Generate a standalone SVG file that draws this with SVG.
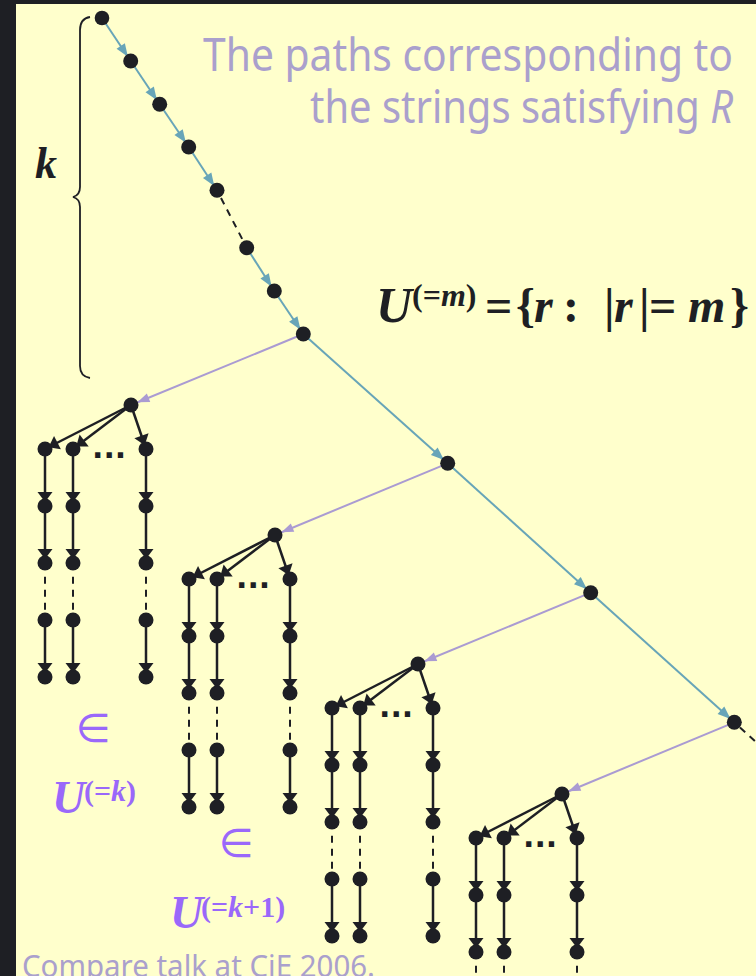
<svg xmlns="http://www.w3.org/2000/svg" width="756" height="976" viewBox="0 0 756 976">
<style>
.nd{fill:#1e1f24}
.e{stroke:#1e1f24;stroke-width:2.5;fill:none;marker-end:url(#aB)}
.d{stroke:#1e1f24;stroke-width:2;fill:none;stroke-dasharray:7 6}
.t{stroke:#68a5b8;stroke-width:2;fill:none;marker-end:url(#aT)}
.p{stroke:#aa9bd2;stroke-width:2;fill:none;marker-end:url(#aP)}
.ttl{font-family:"Noto Sans","Liberation Sans",sans-serif;fill:#aaa0cc}
.mth{font-family:"Liberation Serif",serif;font-weight:bold;font-style:italic}
.up{font-style:normal}
.pur{fill:#9a68fa}
.dots{font-family:"DejaVu Sans",sans-serif;font-weight:bold;font-size:30px;fill:#1e1f24}
</style>
<defs>
<marker id="aT" markerUnits="userSpaceOnUse" markerWidth="13" markerHeight="10" refX="18" refY="5" orient="auto" overflow="visible"><path d="M0,0 L13,5 L0,10 z" fill="#68a5b8"/></marker>
<marker id="aB" markerUnits="userSpaceOnUse" markerWidth="10" markerHeight="15" refX="14" refY="7.5" orient="auto" overflow="visible"><path d="M0,0 L10,7.5 L0,15 z" fill="#1e1f24"/></marker>
<marker id="aP" markerUnits="userSpaceOnUse" markerWidth="12" markerHeight="9" refX="19" refY="4.5" orient="auto" overflow="visible"><path d="M0,0 L12,4.5 L0,9 z" fill="#aa9bd2"/></marker>
</defs>
<rect x="0" y="0" width="756" height="976" fill="#1e1f24"/>
<rect x="16" y="4" width="740" height="972" fill="#ffffcc"/>

<g id="title">
<text class="ttl" x="203" y="71" font-size="45" textLength="530" lengthAdjust="spacingAndGlyphs">The paths corresponding to</text>
<text class="ttl" x="310" y="123" font-size="45" textLength="423" lengthAdjust="spacingAndGlyphs">the strings satisfying <tspan font-style="italic">R</tspan></text>
</g>
<g id="brace">
<path d="M90,17 C84,18 80,22 80,30 L80,187 C80,193 77,196 73,197 C77,198 80,201 80,207 L80,366 C80,373 84,377 90,378" fill="none" stroke="#1e1f24" stroke-width="1.8"/>
<text class="mth" x="35" y="178" font-size="44" fill="#1e1f24">k</text>
</g>
<g id="formula" class="mth" fill="#1e1f24">
<text x="376" y="322" font-size="50">U</text>
<text x="412" y="306" font-size="32"><tspan class="up">(=</tspan>m<tspan class="up">)</tspan></text>
<text y="322" font-size="48"><tspan class="up" x="485">=</tspan><tspan class="up" x="516">{</tspan><tspan x="534">r</tspan><tspan class="up" x="563">:</tspan><tspan class="up" x="604">|</tspan><tspan x="614">r</tspan><tspan class="up" x="639">|</tspan><tspan class="up" x="649">=</tspan><tspan x="688">m</tspan><tspan class="up" x="730">}</tspan></text>
</g>
<g id="label-k" class="mth pur">
<text class="up" x="93.5" y="742" font-family="DejaVu Sans, sans-serif" font-weight="normal" font-size="40" text-anchor="middle">∈</text>
<text x="52" y="813" font-size="46">U</text>
<text x="84" y="801" font-size="30"><tspan class="up">(=</tspan>k<tspan class="up">)</tspan></text>
</g>
<g id="label-k1" class="mth pur">
<text class="up" x="236.5" y="857" font-family="DejaVu Sans, sans-serif" font-weight="normal" font-size="40" text-anchor="middle">∈</text>
<text x="170" y="928" font-size="46">U</text>
<text x="201" y="917" font-size="30"><tspan class="up">(=</tspan>k<tspan class="up">+1)</tspan></text>
</g>
<g id="footer">
<text class="ttl" x="22" y="977" font-size="30" textLength="353" lengthAdjust="spacingAndGlyphs">Compare talk at CiE 2006.</text>
</g>

<g id="connectors">
<line class="t" x1="102" y1="18" x2="130.7" y2="61"/>
<line class="t" x1="130.7" y1="61" x2="159.7" y2="104.3"/>
<line class="t" x1="159.7" y1="104.3" x2="188.7" y2="147"/>
<line class="t" x1="188.7" y1="147" x2="217" y2="190.3"/>
<line class="d" x1="221" y1="198" x2="246.7" y2="247.7" stroke-dasharray="7 5"/>
<line class="t" x1="246.7" y1="247.7" x2="274.3" y2="291"/>
<line class="t" x1="274.3" y1="291" x2="303.3" y2="334"/>
<line class="t" x1="303.3" y1="334" x2="447.7" y2="463.3"/>
<line class="t" x1="447.7" y1="463.3" x2="590.7" y2="592.7"/>
<line class="t" x1="590.7" y1="592.7" x2="734.3" y2="722.3"/>
<line class="d" x1="740" y1="727.5" x2="776" y2="760" stroke-dasharray="6 5"/>
<line class="p" x1="303.3" y1="334" x2="131" y2="405"/>
<line class="p" x1="447.7" y1="463.3" x2="275" y2="535"/>
<line class="p" x1="590.7" y1="592.7" x2="418" y2="664"/>
<line class="p" x1="734.3" y1="722.3" x2="562" y2="794"/>

<line class="e" x1="131" y1="405" x2="45" y2="449"/>
<line class="e" x1="131" y1="405" x2="73" y2="449"/>
<line class="e" x1="131" y1="405" x2="146" y2="449"/>
<line class="e" x1="45" y1="449" x2="45" y2="506"/>
<line class="e" x1="45" y1="506" x2="45" y2="563"/>
<line class="d" x1="45" y1="576.7" x2="45" y2="612.5"/>
<line class="e" x1="45" y1="620" x2="45" y2="677"/>
<line class="e" x1="73" y1="449" x2="73" y2="506"/>
<line class="e" x1="73" y1="506" x2="73" y2="563"/>
<line class="d" x1="73" y1="576.7" x2="73" y2="612.5"/>
<line class="e" x1="73" y1="620" x2="73" y2="677"/>
<line class="e" x1="146" y1="449" x2="146" y2="506"/>
<line class="e" x1="146" y1="506" x2="146" y2="563"/>
<line class="d" x1="146" y1="576.7" x2="146" y2="612.5"/>
<line class="e" x1="146" y1="620" x2="146" y2="677"/>

<line class="e" x1="275" y1="535" x2="189" y2="579"/>
<line class="e" x1="275" y1="535" x2="217" y2="579"/>
<line class="e" x1="275" y1="535" x2="290" y2="579"/>
<line class="e" x1="189" y1="579" x2="189" y2="636"/>
<line class="e" x1="189" y1="636" x2="189" y2="693"/>
<line class="d" x1="189" y1="706.7" x2="189" y2="742.5"/>
<line class="e" x1="189" y1="750" x2="189" y2="807"/>
<line class="e" x1="217" y1="579" x2="217" y2="636"/>
<line class="e" x1="217" y1="636" x2="217" y2="693"/>
<line class="d" x1="217" y1="706.7" x2="217" y2="742.5"/>
<line class="e" x1="217" y1="750" x2="217" y2="807"/>
<line class="e" x1="290" y1="579" x2="290" y2="636"/>
<line class="e" x1="290" y1="636" x2="290" y2="693"/>
<line class="d" x1="290" y1="706.7" x2="290" y2="742.5"/>
<line class="e" x1="290" y1="750" x2="290" y2="807"/>

<line class="e" x1="418" y1="664" x2="332" y2="708"/>
<line class="e" x1="418" y1="664" x2="360" y2="708"/>
<line class="e" x1="418" y1="664" x2="433" y2="708"/>
<line class="e" x1="332" y1="708" x2="332" y2="765"/>
<line class="e" x1="332" y1="765" x2="332" y2="822"/>
<line class="d" x1="332" y1="835.7" x2="332" y2="871.5"/>
<line class="e" x1="332" y1="879" x2="332" y2="936"/>
<line class="e" x1="360" y1="708" x2="360" y2="765"/>
<line class="e" x1="360" y1="765" x2="360" y2="822"/>
<line class="d" x1="360" y1="835.7" x2="360" y2="871.5"/>
<line class="e" x1="360" y1="879" x2="360" y2="936"/>
<line class="e" x1="433" y1="708" x2="433" y2="765"/>
<line class="e" x1="433" y1="765" x2="433" y2="822"/>
<line class="d" x1="433" y1="835.7" x2="433" y2="871.5"/>
<line class="e" x1="433" y1="879" x2="433" y2="936"/>

<line class="e" x1="562" y1="794" x2="476" y2="838"/>
<line class="e" x1="562" y1="794" x2="504" y2="838"/>
<line class="e" x1="562" y1="794" x2="577" y2="838"/>
<line class="e" x1="476" y1="838" x2="476" y2="895"/>
<line class="e" x1="476" y1="895" x2="476" y2="952"/>
<line class="d" x1="476" y1="965.7" x2="476" y2="1001.5"/>
<line class="e" x1="504" y1="838" x2="504" y2="895"/>
<line class="e" x1="504" y1="895" x2="504" y2="952"/>
<line class="d" x1="504" y1="965.7" x2="504" y2="1001.5"/>
<line class="e" x1="577" y1="838" x2="577" y2="895"/>
<line class="e" x1="577" y1="895" x2="577" y2="952"/>
<line class="d" x1="577" y1="965.7" x2="577" y2="1001.5"/>
</g>

<g id="chain">
<g id="c0"><circle class="nd" cx="102" cy="18" r="7.3"/></g>
<g id="c1"><circle class="nd" cx="130.7" cy="61" r="7.5"/></g>
<g id="c2"><circle class="nd" cx="159.7" cy="104.3" r="7.5"/></g>
<g id="c3"><circle class="nd" cx="188.7" cy="147" r="7.5"/></g>
<g id="c4"><circle class="nd" cx="217" cy="190.3" r="7.5"/></g>
<g id="c5"><circle class="nd" cx="246.7" cy="247.7" r="7.5"/></g>
<g id="c6"><circle class="nd" cx="274.3" cy="291" r="7.5"/></g>
<g id="c7"><circle class="nd" cx="303.3" cy="334" r="7.5"/></g>
<g id="c8"><circle class="nd" cx="447.7" cy="463.3" r="7.5"/></g>
<g id="c9"><circle class="nd" cx="590.7" cy="592.7" r="7.5"/></g>
<g id="c10"><circle class="nd" cx="734.3" cy="722.3" r="7.5"/></g>
</g>

<g id="tree1">
<g id="t1-root"><circle class="nd" cx="131" cy="405" r="7.5"/></g>
<g id="t1-a1"><circle class="nd" cx="45" cy="449" r="7.5"/></g>
<g id="t1-a2"><circle class="nd" cx="45" cy="506" r="7.5"/></g>
<g id="t1-a3"><circle class="nd" cx="45" cy="563" r="7.5"/></g>
<g id="t1-a4"><circle class="nd" cx="45" cy="620" r="7.5"/></g>
<g id="t1-a5"><circle class="nd" cx="45" cy="677" r="7.5"/></g>
<g id="t1-b1"><circle class="nd" cx="73" cy="449" r="7.5"/></g>
<g id="t1-b2"><circle class="nd" cx="73" cy="506" r="7.5"/></g>
<g id="t1-b3"><circle class="nd" cx="73" cy="563" r="7.5"/></g>
<g id="t1-b4"><circle class="nd" cx="73" cy="620" r="7.5"/></g>
<g id="t1-b5"><circle class="nd" cx="73" cy="677" r="7.5"/></g>
<g id="t1-c1"><circle class="nd" cx="146" cy="449" r="7.5"/></g>
<g id="t1-c2"><circle class="nd" cx="146" cy="506" r="7.5"/></g>
<g id="t1-c3"><circle class="nd" cx="146" cy="563" r="7.5"/></g>
<g id="t1-c4"><circle class="nd" cx="146" cy="620" r="7.5"/></g>
<g id="t1-c5"><circle class="nd" cx="146" cy="677" r="7.5"/></g>
<text class="dots" x="92" y="458">...</text>
</g>

<g id="tree2">
<g id="t2-root"><circle class="nd" cx="275" cy="535" r="7.5"/></g>
<g id="t2-a1"><circle class="nd" cx="189" cy="579" r="7.5"/></g>
<g id="t2-a2"><circle class="nd" cx="189" cy="636" r="7.5"/></g>
<g id="t2-a3"><circle class="nd" cx="189" cy="693" r="7.5"/></g>
<g id="t2-a4"><circle class="nd" cx="189" cy="750" r="7.5"/></g>
<g id="t2-a5"><circle class="nd" cx="189" cy="807" r="7.5"/></g>
<g id="t2-b1"><circle class="nd" cx="217" cy="579" r="7.5"/></g>
<g id="t2-b2"><circle class="nd" cx="217" cy="636" r="7.5"/></g>
<g id="t2-b3"><circle class="nd" cx="217" cy="693" r="7.5"/></g>
<g id="t2-b4"><circle class="nd" cx="217" cy="750" r="7.5"/></g>
<g id="t2-b5"><circle class="nd" cx="217" cy="807" r="7.5"/></g>
<g id="t2-c1"><circle class="nd" cx="290" cy="579" r="7.5"/></g>
<g id="t2-c2"><circle class="nd" cx="290" cy="636" r="7.5"/></g>
<g id="t2-c3"><circle class="nd" cx="290" cy="693" r="7.5"/></g>
<g id="t2-c4"><circle class="nd" cx="290" cy="750" r="7.5"/></g>
<g id="t2-c5"><circle class="nd" cx="290" cy="807" r="7.5"/></g>
<text class="dots" x="236" y="588">...</text>
</g>

<g id="tree3">
<g id="t3-root"><circle class="nd" cx="418" cy="664" r="7.5"/></g>
<g id="t3-a1"><circle class="nd" cx="332" cy="708" r="7.5"/></g>
<g id="t3-a2"><circle class="nd" cx="332" cy="765" r="7.5"/></g>
<g id="t3-a3"><circle class="nd" cx="332" cy="822" r="7.5"/></g>
<g id="t3-a4"><circle class="nd" cx="332" cy="879" r="7.5"/></g>
<g id="t3-a5"><circle class="nd" cx="332" cy="936" r="7.5"/></g>
<g id="t3-b1"><circle class="nd" cx="360" cy="708" r="7.5"/></g>
<g id="t3-b2"><circle class="nd" cx="360" cy="765" r="7.5"/></g>
<g id="t3-b3"><circle class="nd" cx="360" cy="822" r="7.5"/></g>
<g id="t3-b4"><circle class="nd" cx="360" cy="879" r="7.5"/></g>
<g id="t3-b5"><circle class="nd" cx="360" cy="936" r="7.5"/></g>
<g id="t3-c1"><circle class="nd" cx="433" cy="708" r="7.5"/></g>
<g id="t3-c2"><circle class="nd" cx="433" cy="765" r="7.5"/></g>
<g id="t3-c3"><circle class="nd" cx="433" cy="822" r="7.5"/></g>
<g id="t3-c4"><circle class="nd" cx="433" cy="879" r="7.5"/></g>
<g id="t3-c5"><circle class="nd" cx="433" cy="936" r="7.5"/></g>
<text class="dots" x="379" y="717">...</text>
</g>

<g id="tree4">
<g id="t4-root"><circle class="nd" cx="562" cy="794" r="7.5"/></g>
<g id="t4-a1"><circle class="nd" cx="476" cy="838" r="7.5"/></g>
<g id="t4-a2"><circle class="nd" cx="476" cy="895" r="7.5"/></g>
<g id="t4-a3"><circle class="nd" cx="476" cy="952" r="7.5"/></g>
<g id="t4-b1"><circle class="nd" cx="504" cy="838" r="7.5"/></g>
<g id="t4-b2"><circle class="nd" cx="504" cy="895" r="7.5"/></g>
<g id="t4-b3"><circle class="nd" cx="504" cy="952" r="7.5"/></g>
<g id="t4-c1"><circle class="nd" cx="577" cy="838" r="7.5"/></g>
<g id="t4-c2"><circle class="nd" cx="577" cy="895" r="7.5"/></g>
<g id="t4-c3"><circle class="nd" cx="577" cy="952" r="7.5"/></g>
<text class="dots" x="523" y="847">...</text>
</g>
</svg>
